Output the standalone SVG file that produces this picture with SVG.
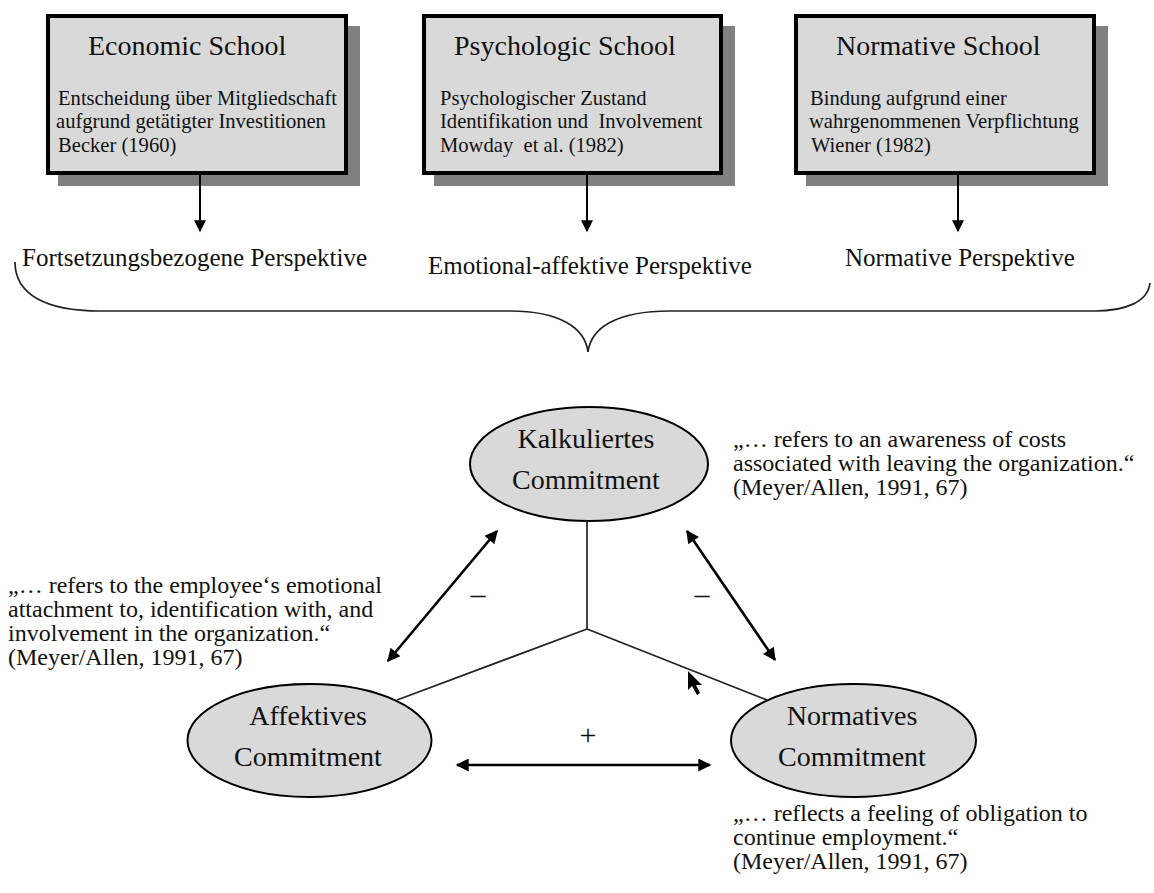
<svg xmlns="http://www.w3.org/2000/svg" width="1154" height="893" viewBox="0 0 1154 893">
<style>
text{font-family:"Liberation Serif","Times New Roman",serif;fill:#111}
.title{font-size:28px}
.body{font-size:20.6px}
.persp{font-size:25px}
.ell{font-size:28px;text-anchor:middle}
.quote{font-size:24px}
.sign{font-size:30px;text-anchor:middle}
.shadow{fill:#808080}
.box{fill:#d9d9d9;stroke:#000;stroke-width:4}
.node{fill:#d9d9d9;stroke:#000;stroke-width:2}
.thin{stroke:#222;stroke-width:1.7;fill:none}
.arr{stroke:#000;stroke-width:2.6;fill:none}
.down{stroke:#000;stroke-width:2;fill:none}
</style>
<defs>
<marker id="ah" viewBox="0 0 10 10" refX="9" refY="5" markerWidth="6" markerHeight="5" markerUnits="strokeWidth" orient="auto-start-reverse">
<path d="M0,0 L10,5 L0,10 z" fill="#000"/>
</marker>
<marker id="ahs" viewBox="0 0 10 10" refX="9" refY="5" markerWidth="6.5" markerHeight="6" markerUnits="strokeWidth" orient="auto">
<path d="M0,0 L10,5 L0,10 z" fill="#000"/>
</marker>
</defs>
<rect width="1154" height="893" fill="#fff"/>

<g id="economic-school">
<rect class="shadow" x="58" y="26" width="302" height="160"/>
<rect class="box" x="48" y="16" width="298" height="157"/>
<text class="title" x="88" y="55">Economic School</text>
<text class="body" x="58" y="105">Entscheidung über Mitgliedschaft</text>
<text class="body" x="56" y="128">aufgrund getätigter Investitionen</text>
<text class="body" x="58" y="152">Becker (1960)</text>
</g>

<g id="psychologic-school">
<rect class="shadow" x="434" y="26" width="301" height="160"/>
<rect class="box" x="424" y="16" width="297" height="157"/>
<text class="title" x="454" y="55">Psychologic School</text>
<text class="body" x="440" y="105">Psychologischer Zustand</text>
<text class="body" x="440" y="128" xml:space="preserve">Identifikation und  Involvement</text>
<text class="body" x="440" y="152" xml:space="preserve">Mowday  et al. (1982)</text>
</g>

<g id="normative-school">
<rect class="shadow" x="806" y="26" width="302" height="160"/>
<rect class="box" x="796" y="16" width="298" height="157"/>
<text class="title" x="836" y="55">Normative School</text>
<text class="body" x="810" y="105">Bindung aufgrund einer</text>
<text class="body" x="809" y="128">wahrgenommenen Verpflichtung</text>
<text class="body" x="811" y="152">Wiener (1982)</text>
</g>

<g id="perspectives">
<text class="persp" x="22" y="266">Fortsetzungsbezogene Perspektive</text>
<text class="persp" x="428" y="274">Emotional-affektive Perspektive</text>
<text class="persp" x="845" y="266">Normative Perspektive</text>
</g>

<g id="kalkuliertes">
<ellipse class="node" cx="589" cy="464" rx="119" ry="57"/>
<text class="ell" x="586" y="448">Kalkuliertes</text>
<text class="ell" x="586" y="489">Commitment</text>
</g>

<g id="affektives">
<ellipse class="node" cx="309.5" cy="740.5" rx="122" ry="56.5"/>
<text class="ell" x="308" y="725">Affektives</text>
<text class="ell" x="308" y="766">Commitment</text>
</g>

<g id="normatives">
<ellipse class="node" cx="853.5" cy="740.5" rx="122.5" ry="56.5"/>
<text class="ell" x="852" y="725">Normatives</text>
<text class="ell" x="852" y="766">Commitment</text>
</g>

<g id="quotes">
<text class="quote" x="733" y="447">„… refers to an awareness of costs</text>
<text class="quote" x="733" y="471">associated with leaving the organization.“</text>
<text class="quote" x="733" y="495">(Meyer/Allen, 1991, 67)</text>
<text class="quote" x="8" y="593">„… refers to the employee‘s emotional</text>
<text class="quote" x="8" y="617">attachment to, identification with, and</text>
<text class="quote" x="8" y="641">involvement in the organization.“</text>
<text class="quote" x="8" y="665">(Meyer/Allen, 1991, 67)</text>
<text class="quote" x="733" y="821">„… reflects a feeling of obligation to</text>
<text class="quote" x="733" y="845">continue employment.“</text>
<text class="quote" x="733" y="869">(Meyer/Allen, 1991, 67)</text>
</g>

<g id="connectors">
<line class="down" x1="200" y1="175" x2="200" y2="231" marker-end="url(#ahs)"/>
<line class="down" x1="587" y1="175" x2="587" y2="231" marker-end="url(#ahs)"/>
<line class="down" x1="958" y1="175" x2="958" y2="231" marker-end="url(#ahs)"/>
<path class="thin" d="M15,262 C15,294 45,311 100,311 L510,311 C560,311 585,328 588,352 C591,328 616,311 670,311 L1095,311 C1125,311 1148,302 1150,283"/>
<line class="thin" x1="587" y1="521" x2="587" y2="629"/>
<line class="thin" x1="587" y1="629" x2="397" y2="700"/>
<line class="thin" x1="587" y1="629" x2="767" y2="700"/>
<line class="arr" x1="497" y1="531" x2="388" y2="661" marker-start="url(#ah)" marker-end="url(#ah)"/>
<line class="arr" x1="687" y1="531" x2="775" y2="660" marker-start="url(#ah)" marker-end="url(#ah)"/>
<line class="arr" x1="457" y1="765" x2="710" y2="765" marker-start="url(#ah)" marker-end="url(#ah)"/>
<text class="sign" x="478" y="604">–</text>
<text class="sign" x="702" y="604">–</text>
<text class="sign" x="588" y="745">+</text>
</g>

<polygon points="688,671 688,690 692,686 697,695 700,693 696,685 702,685" fill="#000"/>
</svg>
